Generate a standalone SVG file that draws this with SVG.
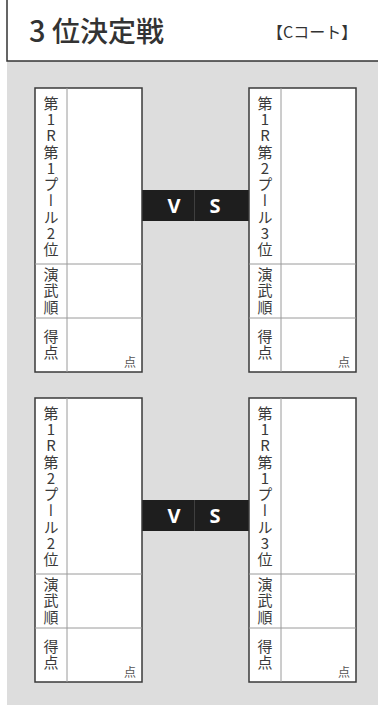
<svg xmlns="http://www.w3.org/2000/svg" width="378" height="705" viewBox="0 0 378 705">
<style>
.bg{fill:#dddddd}
.box{fill:#ffffff;stroke:#3a3a3a;stroke-width:1.5}
.ln{stroke:#9a9a9a;stroke-width:1;fill:none}
.vt{font-family:"Noto Sans CJK JP","Noto Sans",sans-serif;font-size:15px;fill:#3a3a3a;writing-mode:vertical-rl;text-orientation:upright;letter-spacing:1.3px}
.pt{font-family:"Noto Sans CJK JP",sans-serif;font-size:12px;fill:#555;text-anchor:middle}
.vs{fill:#1e1e1e}
.vsl{font-family:"Open Sans","DejaVu Sans",sans-serif;font-weight:bold;font-size:20px;fill:#ffffff;text-anchor:middle}
</style>
<rect x="7" y="61" width="371" height="644" class="bg"/>
<g id="header">
<rect x="7" y="-2" width="373" height="63" fill="#ffffff" stroke="#333" stroke-width="1.5"/>
<text y="42" font-family="Noto Sans CJK JP,sans-serif" font-size="28" font-weight="500" fill="#333"><tspan x="29" font-size="29">3</tspan><tspan x="52">位決定戦</tspan></text>
<text x="267" y="38" font-family="Noto Sans CJK JP,sans-serif" font-size="16" fill="#333">【Cコート】</text>
</g>
<g id="connectors">
<rect x="142" y="190" width="107" height="31" class="vs"/>
<line x1="194.5" y1="190" x2="194.5" y2="221" stroke="#555" stroke-width="0.6"/>
<text x="174" y="212.5" class="vsl">V</text>
<text x="215" y="212.5" class="vsl">S</text>
<rect x="142" y="500" width="107" height="31" class="vs"/>
<line x1="194.5" y1="500" x2="194.5" y2="531" stroke="#555" stroke-width="0.6"/>
<text x="174" y="522.5" class="vsl">V</text>
<text x="215" y="522.5" class="vsl">S</text>
</g>
<g id="m1-left">
<rect x="35" y="88" width="107" height="284" class="box"/>
<path d="M67 88V372M35 264H142M35 318H142" class="ln"/>
<text x="51" y="95.5" class="vt">第1R第1プール2位</text>
<text x="51" y="267" class="vt">演武順</text>
<text x="51" y="329" class="vt">得点</text>
<text x="130" y="367" class="pt">点</text>
</g>
<g id="m1-right">
<rect x="249" y="88" width="107" height="284" class="box"/>
<path d="M281 88V372M249 264H356M249 318H356" class="ln"/>
<text x="265" y="95.5" class="vt">第1R第2プール3位</text>
<text x="265" y="267" class="vt">演武順</text>
<text x="265" y="329" class="vt">得点</text>
<text x="344" y="367" class="pt">点</text>
</g>
<g id="m2-left">
<rect x="35" y="398" width="107" height="284" class="box"/>
<path d="M67 398V682M35 574H142M35 628H142" class="ln"/>
<text x="51" y="405.5" class="vt">第1R第2プール2位</text>
<text x="51" y="577" class="vt">演武順</text>
<text x="51" y="639" class="vt">得点</text>
<text x="130" y="677" class="pt">点</text>
</g>
<g id="m2-right">
<rect x="249" y="398" width="107" height="284" class="box"/>
<path d="M281 398V682M249 574H356M249 628H356" class="ln"/>
<text x="265" y="405.5" class="vt">第1R第1プール3位</text>
<text x="265" y="577" class="vt">演武順</text>
<text x="265" y="639" class="vt">得点</text>
<text x="344" y="677" class="pt">点</text>
</g>
</svg>
